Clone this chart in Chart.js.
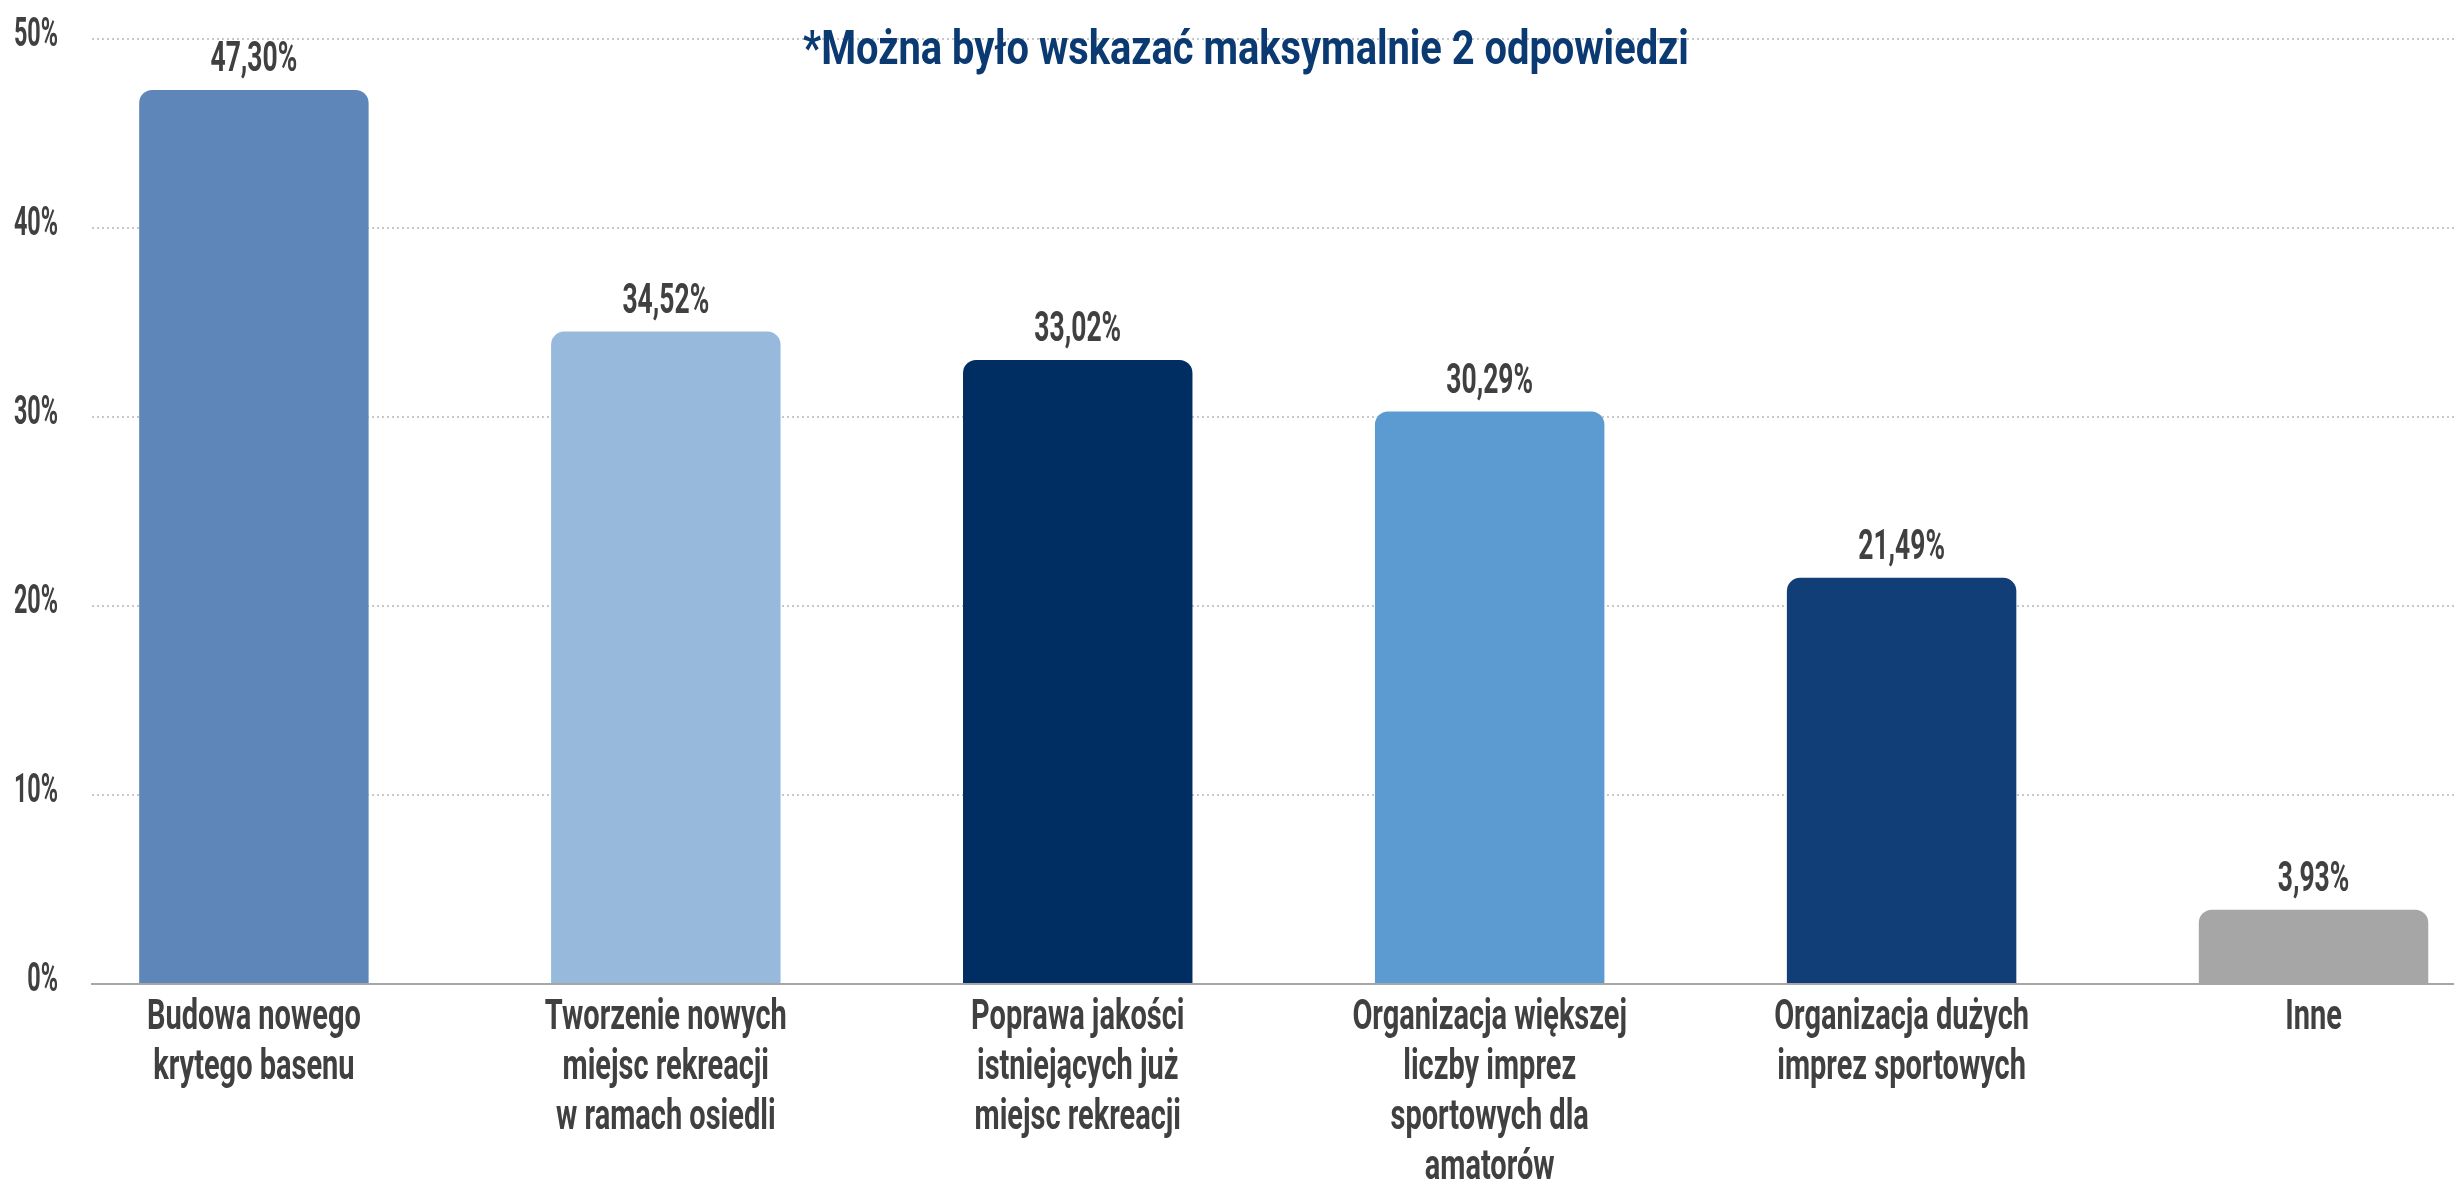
<!DOCTYPE html>
<html lang="pl">
<head>
<meta charset="utf-8">
<title>Wybór odpowiedzi</title>
<script src="https://cdn.jsdelivr.net/npm/chart.js@4.4.1/dist/chart.umd.min.js"></script>
<style>
    html, body { margin: 0; padding: 0; background: #ffffff; overflow: hidden; }
    #wrap { width: 2454px; height: 1182px; position: relative; }
</style>
</head>
<body>
<div id="wrap"><canvas id="chart"></canvas></div>
<script>
// answers (multi-line labels for the x axis)
const categories = [
    ["Budowa nowego", "krytego basenu"],
    ["Tworzenie nowych", "miejsc rekreacji", "w ramach osiedli"],
    ["Poprawa jakości", "istniejących już", "miejsc rekreacji"],
    ["Organizacja większej", "liczby imprez", "sportowych dla", "amatorów"],
    ["Organizacja dużych", "imprez sportowych"],
    ["Inne"]
];
// share of respondents, %
const values = [47.30, 34.52, 33.02, 30.29, 21.49, 3.93];
const barColors = ["#5E86B8", "#96B9DC", "#002D62", "#5B9BD1", "#123E78", "#A6A6A6"];
const yTicks = [0, 10, 20, 30, 40, 50];
const note = "*Można było wskazać maksymalnie 2 odpowiedzi";

const FONT = "Roboto, 'DejaVu Sans Condensed', sans-serif";
const TEXT = "#404040";

function fmtPct(v){
    return v.toFixed(2).replace(".", ",") + "%";
}

// narrow lettering: squeeze the text horizontally around its anchor
function narrowText(ctx, text, x, y, sx, align){
    ctx.save();
    ctx.translate(x, y);
    ctx.scale(sx, 1);
    ctx.textAlign = align;
    ctx.fillText(text, 0, 0);
    ctx.restore();
}

// axis labels, drawn at the positions the scales give
const axisLabels = {
    id: "axisLabels",
    afterDraw(chart){
        const ctx = chart.ctx;
        const xs = chart.scales.x, ys = chart.scales.y;
        ctx.save();
        ctx.fillStyle = TEXT;
        ctx.textBaseline = "middle";

        ctx.font = "bold 41px " + FONT;
        yTicks.forEach(function(v){
            narrowText(ctx, v + "%", xs.left - 34, ys.getPixelForValue(v) - 3, 0.57, "right");
        });

        ctx.font = "bold 42px " + FONT;
        categories.forEach(function(lines, i){
            const cx = xs.getPixelForValue(i);
            lines.forEach(function(line, k){
                narrowText(ctx, line, cx, ys.bottom + 34 + k * 50, 0.69, "center");
            });
        });
        ctx.restore();
    }
};

// value labels above the bars
const valueLabels = {
    id: "valueLabels",
    afterDatasetsDraw(chart){
        const ctx = chart.ctx;
        const meta = chart.getDatasetMeta(0);
        ctx.save();
        ctx.font = "bold 42px " + FONT;
        ctx.fillStyle = TEXT;
        ctx.textBaseline = "alphabetic";
        meta.data.forEach(function(bar, i){
            narrowText(ctx, fmtPct(values[i]), bar.x, bar.y - 19, 0.63, "center");
        });
        ctx.restore();
    }
};

// note at the top of the plot
const noteText = {
    id: "noteText",
    afterDraw(chart){
        const ctx = chart.ctx;
        ctx.save();
        ctx.font = "bold 48px " + FONT;
        ctx.fillStyle = "#0B3A72";
        ctx.textBaseline = "alphabetic";
        narrowText(ctx, note, 1246, 64, 0.83, "center");
        ctx.restore();
    }
};

const chart = new Chart(document.getElementById("chart"), {
    type: "bar",
    data: {
        datasets: [{
            data: values.map((v, i) => ({x: i, y: v})),
            backgroundColor: barColors,
            borderWidth: 0,
            borderSkipped: "bottom",
            borderRadius: {topLeft: 13, topRight: 13, bottomLeft: 0, bottomRight: 0},
            categoryPercentage: 1,
            barPercentage: 0.557
        }]
    },
    options: {
        responsive: true,
        maintainAspectRatio: false,
        animation: false,
        layout: { padding: { top: 39, right: 0, left: 0, bottom: 0 } },
        plugins: {
            legend: { display: false },
            tooltip: { enabled: false }
        },
        scales: {
            x: {
                type: "linear",
                min: -0.393,
                max: 5.341,
                offset: false,
                afterBuildTicks: function(axis){
                    axis.ticks = categories.map((c, i) => ({value: i}));
                },
                afterFit: function(axis){ axis.height = 198; },
                grid: { display: false, offset: false, drawTicks: false },
                border: { display: true, color: "#A6A6A6", width: 2 },
                ticks: { display: false }
            },
            y: {
                min: 0,
                max: 50,
                afterBuildTicks: function(axis){
                    axis.ticks = yTicks.map(v => ({value: v}));
                },
                afterFit: function(axis){ axis.width = 92; },
                grid: { color: "#C8C8C8", lineWidth: 2, drawTicks: false },
                border: { display: false, dash: [2, 3] },
                ticks: { display: false }
            }
        }
    },
    plugins: [valueLabels, axisLabels, noteText]
});
</script>
</body>
</html>
